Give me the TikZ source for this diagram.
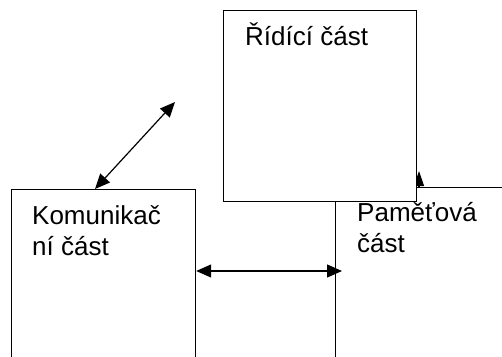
\documentclass[tikz,border=0pt]{standalone}
\usepackage{fontspec}
\setmainfont{Liberation Sans}
\usetikzlibrary{arrows.meta}

\tikzset{
	part/.style={draw, line width=1.2pt, fill=white, inner sep=0pt, anchor=north west},
	partlabel/.style={anchor=base west, inner sep=0pt, align=left,
		font=\fontsize{26}{31}\selectfont},
	both/.style={{Triangle[length=15pt,width=13pt]}-{Triangle[length=15pt,width=13pt]}, line width=1.2pt}
}

\begin{document}
\begin{tikzpicture}[x=1pt, y=-1pt]
		\useasboundingbox (0,0) rectangle (502,356);
		\clip (0,0) rectangle (502,356);

		% Pametova cast lies behind the control part
		\node [part, minimum width=200pt, minimum height=200pt] (pamet) at (335,187) {};
		\coordinate (pametTip) at (419,171);
		\draw [-{Triangle[length=15pt,width=10pt]}, line width=1.2pt] (419,187) -- (pametTip);

		\node [part, minimum width=193pt, minimum height=191pt] (ridici) at (223,10) {};
		\node [part, minimum width=184pt, minimum height=200pt] (komun) at (11,189) {};

		\node [partlabel] (ridiciText) at (245,45) {Řídící část};
		\node [partlabel] (komunText) at (32,255) {Komunikač\\ní část};
		\node [partlabel] (pametText) at (357,252) {Paměťová\\část};

		% connectors
		\coordinate (volny) at (175,102);
		\draw [both] ([xshift=84pt]komun.north west) -- (volny);
		\draw [both] ([yshift=-82pt]komun.north east) -- ([xshift=7pt, yshift=-84pt]pamet.north west);
	\end{tikzpicture}
\end{document}
